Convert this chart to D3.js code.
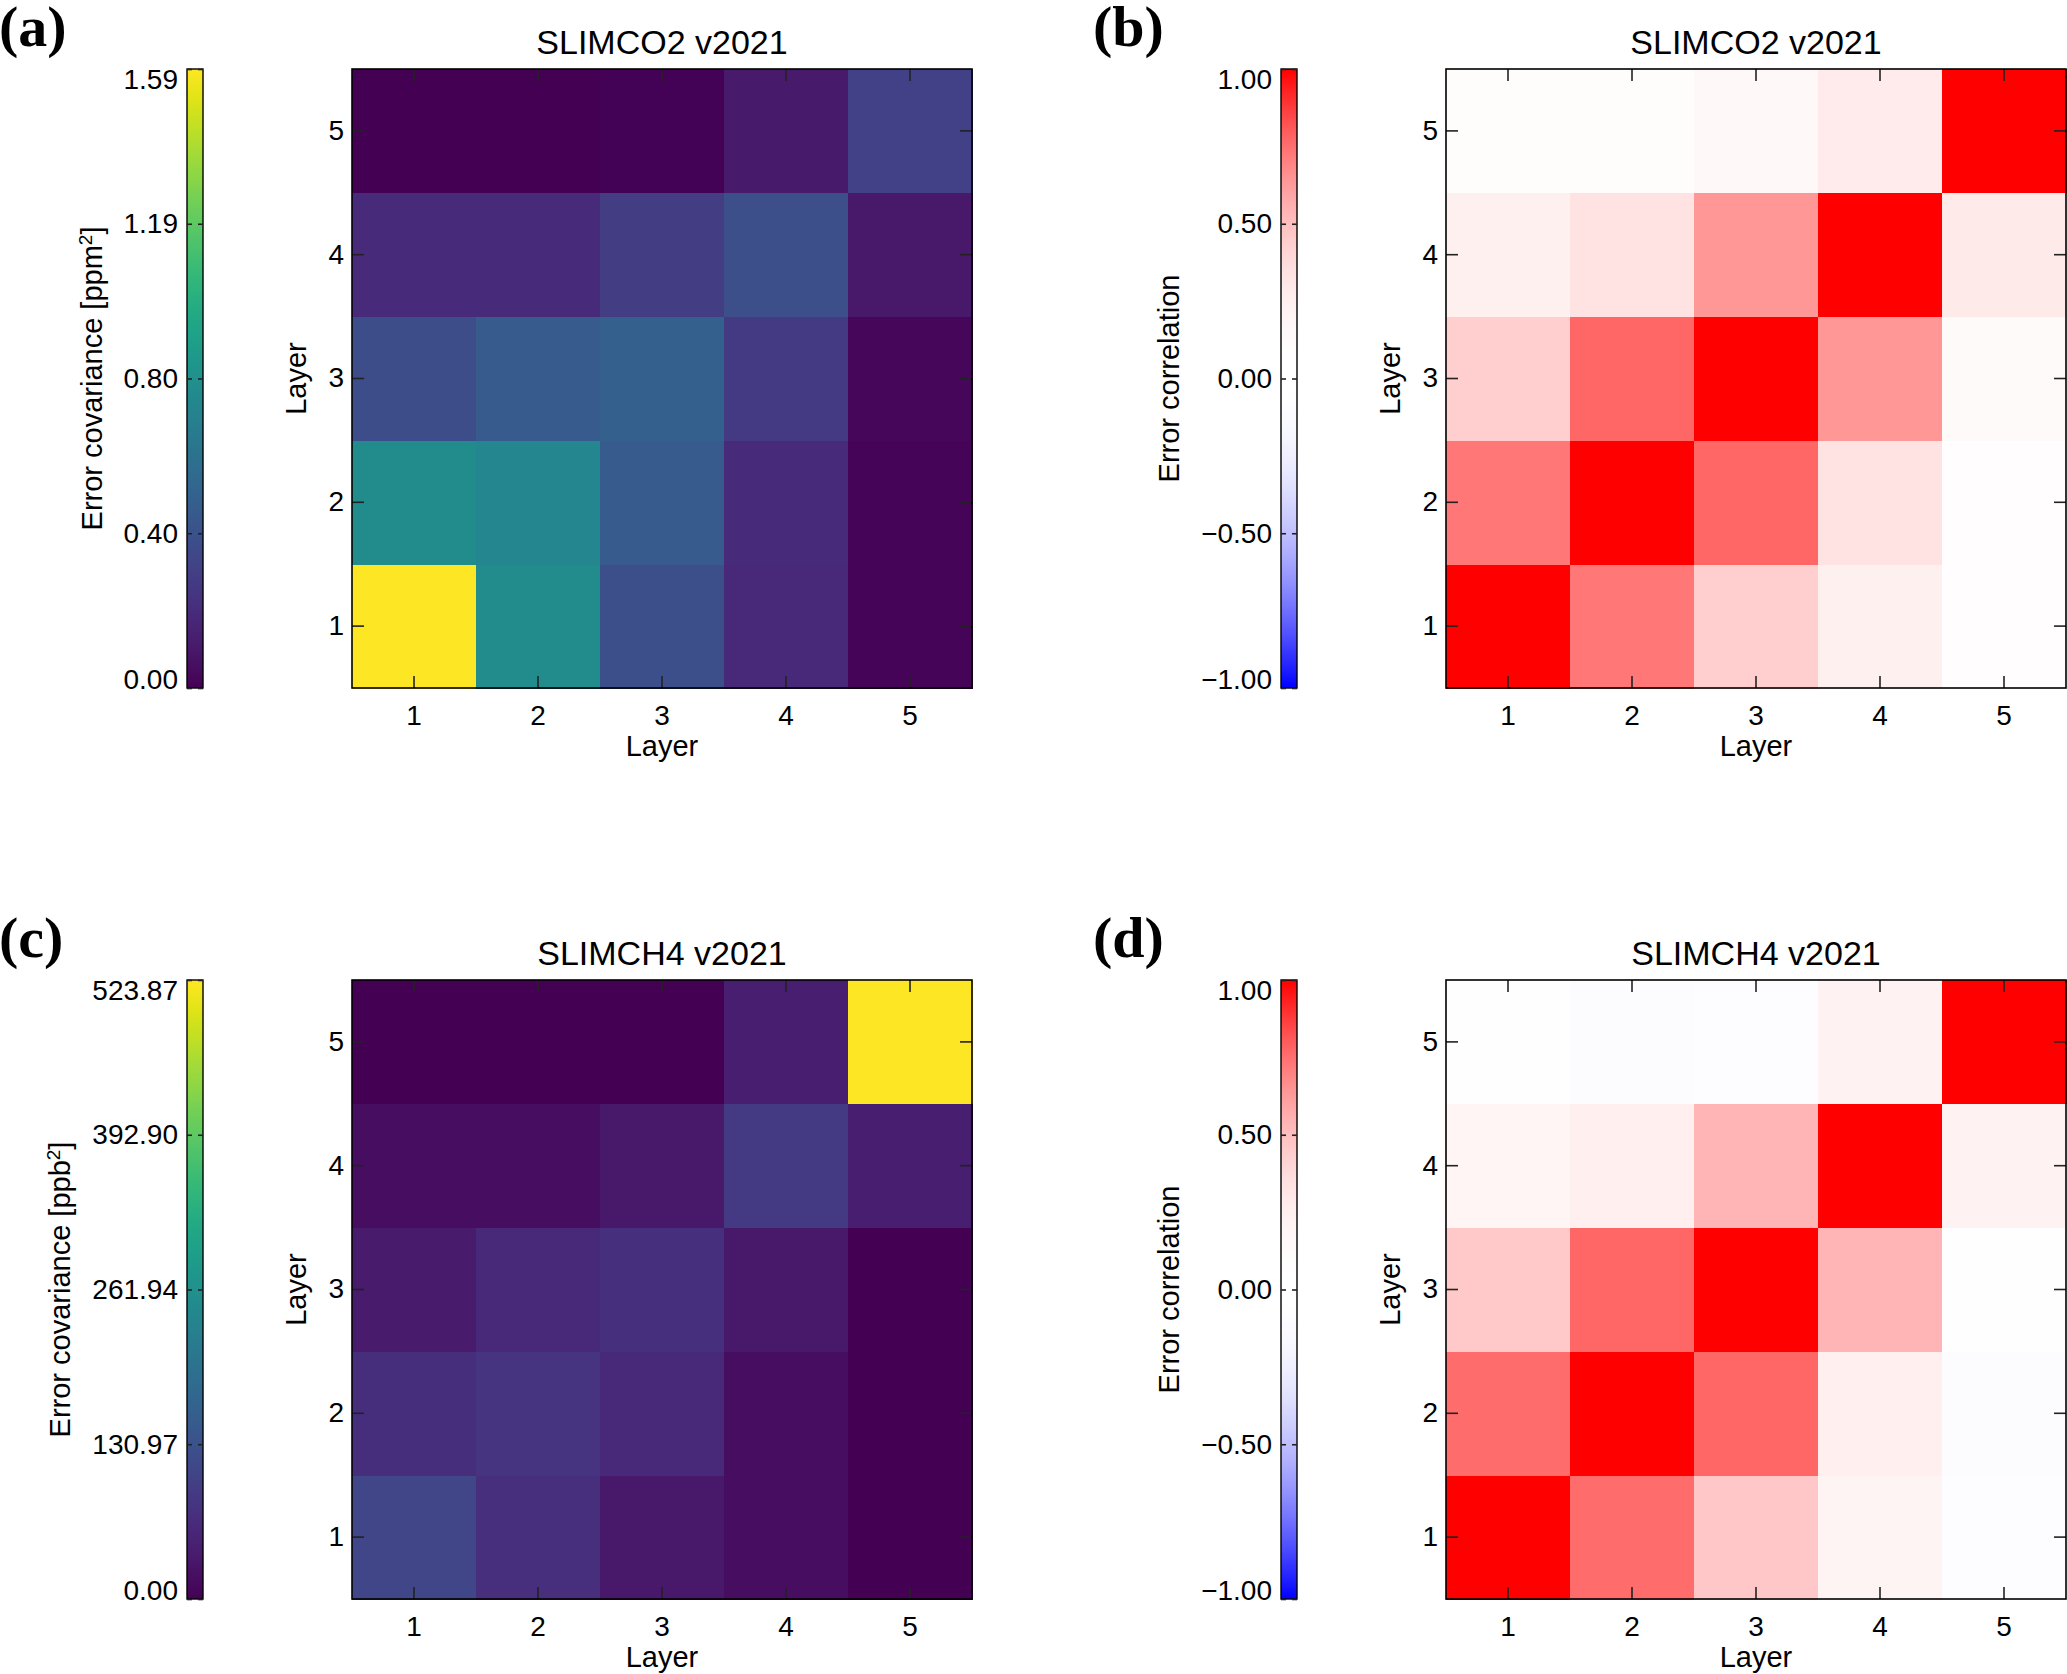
<!DOCTYPE html>
<html><head><meta charset="utf-8">
<script src="https://cdn.jsdelivr.net/npm/d3@7"></script>
<style>body{margin:0;background:#fff}svg text{fill:#000}</style>
</head><body>
<svg id="chart" width="2067" height="1674" font-family='"Liberation Sans",Arial,sans-serif'></svg>
<script>
// ---------------- data ----------------
const layers = [1, 2, 3, 4, 5];

// rows: y-layer 1..5 ; columns: x-layer 1..5
const co2Cov = [
  [1.59, 0.77, 0.38, 0.18, 0.015],
  [0.77, 0.73, 0.45, 0.19, 0.015],
  [0.37, 0.45, 0.48, 0.27, 0.03],
  [0.19, 0.19, 0.28, 0.38, 0.10],
  [0.003, 0.003, 0.012, 0.11, 0.30]
];
const co2Corr = [
  [1.00, 0.73, 0.44, 0.24, 0.09],
  [0.73, 1.00, 0.775, 0.34, 0.09],
  [0.44, 0.775, 1.00, 0.64, 0.14],
  [0.24, 0.34, 0.64, 1.00, 0.29],
  [0.10, 0.10, 0.17, 0.28, 1.00]
];
const ch4Cov = [
  [110, 71, 34, 18, 0.5],
  [68, 79, 58, 18, 0.5],
  [37, 58, 73, 34, 0.5],
  [18, 18, 34, 86, 45],
  [0.5, 0.5, 0.5, 45, 523.87]
];
const ch4Corr = [
  [1.00, 0.76, 0.47, 0.21, -0.09],
  [0.76, 1.00, 0.775, 0.25, -0.11],
  [0.46, 0.775, 1.00, 0.54, -0.07],
  [0.20, 0.25, 0.54, 1.00, 0.23],
  [-0.05, -0.11, -0.09, 0.23, 1.00]
];

const co2CovTickValues = [0, 0.3975, 0.795, 1.1925, 1.59];
const co2CovTickLabels = ["0.00", "0.40", "0.80", "1.19", "1.59"];
const ch4CovTickValues = [0, 130.97, 261.94, 392.90, 523.87];
const ch4CovTickLabels = ["0.00", "130.97", "261.94", "392.90", "523.87"];
const corrTickValues = [-1, -0.5, 0, 0.5, 1];
const corrTickLabels = ["\u22121.00", "\u22120.50", "0.00", "0.50", "1.00"];

const panelLabels = ["(a)", "(b)", "(c)", "(d)"];
const titles = ["SLIMCO2 v2021", "SLIMCO2 v2021", "SLIMCH4 v2021", "SLIMCH4 v2021"];

// ---------------- drawing ----------------
const SANS = '"Liberation Sans",Arial,sans-serif';
const SERIF = '"Liberation Serif","DejaVu Serif","Times New Roman",serif';
const svg = d3.select("#chart");
const defs = svg.append("defs");

// blue-white-red map with quadratic intensity
function corrInterp(t) {           // t in [0,1] -> v in [-1,1]
  const v = t * 2 - 1;
  const s = 1 - v * v;
  const c = Math.round(255 * s);
  return v >= 0 ? `rgb(255,${c},${c})` : `rgb(${c},${c},255)`;
}

const PW = 620, PH = 619, CBW = 16;

function drawPanel(cfg) {
  const dx = cfg.dx, dy = cfg.dy;
  const px = 352 + dx, py = 69 + dy;
  const cbx = 187 + dx;
  const g = svg.append("g");

  const color = cfg.type === "cov"
    ? d3.scaleSequential(d3.interpolateViridis).domain([0, cfg.max])
    : d3.scaleSequential(corrInterp).domain([-1, 1]);

  const x = d3.scaleBand().domain(layers).range([px, px + PW]);
  const y = d3.scaleBand().domain(layers).range([py + PH, py]);

  // cells
  const cells = [];
  cfg.matrix.forEach((row, i) => row.forEach((v, j) => cells.push({ yl: layers[i], xl: layers[j], v })));
  g.append("g").selectAll("rect").data(cells).join("rect")
    .attr("x", d => x(d.xl)).attr("y", d => y(d.yl))
    .attr("width", x.bandwidth() + 0.5).attr("height", y.bandwidth() + 0.5)
    .attr("fill", d => color(d.v))
    .attr("shape-rendering", "crispEdges");

  // axes (inward ticks)
  const styleAxis = a => {
    a.select(".domain").remove();
    a.selectAll("line").attr("stroke", "#222").attr("stroke-width", 1.6);
    a.selectAll("text").attr("font-size", 28).style("font-family", SANS).attr("fill", "#000");
  };
  g.append("g").attr("transform", `translate(0,${py + PH})`)
    .call(d3.axisBottom(x).tickSize(-12).tickPadding(17)).call(styleAxis);
  g.append("g").attr("transform", `translate(0,${py})`)
    .call(d3.axisTop(x).tickSize(-12).tickFormat("")).call(styleAxis);
  g.append("g").attr("transform", `translate(${px},0)`)
    .call(d3.axisLeft(y).tickSize(-12).tickPadding(8)).call(styleAxis);
  g.append("g").attr("transform", `translate(${px + PW},0)`)
    .call(d3.axisRight(y).tickSize(-12).tickFormat("")).call(styleAxis);

  g.append("rect").attr("x", px).attr("y", py).attr("width", PW).attr("height", PH)
    .attr("fill", "none").attr("stroke", "#000").attr("stroke-width", 1.6);

  // axis labels
  g.append("text").attr("x", px + PW / 2).attr("y", py + PH + 68)
    .attr("text-anchor", "middle").attr("font-size", 29).text("Layer");
  g.append("text").attr("transform", `translate(${306 + dx},${py + PH / 2}) rotate(-90)`)
    .attr("text-anchor", "middle").attr("font-size", 29).text("Layer");

  // title
  g.append("text").attr("x", px + PW / 2).attr("y", 54 + dy)
    .attr("text-anchor", "middle").attr("font-size", 34).text(cfg.title);

  // panel label
  g.append("text").attr("x", dx - 1).attr("y", 46 + dy)
    .style("font-family", SERIF)
    .attr("font-weight", "bold").attr("font-size", 58).text(cfg.label);

  // colorbar
  const dom = color.domain();
  const gid = "grad" + cfg.id;
  const grad = defs.append("linearGradient").attr("id", gid)
    .attr("x1", 0).attr("y1", 1).attr("x2", 0).attr("y2", 0);
  d3.range(0, 1.0001, 1 / 60).forEach(t => {
    grad.append("stop").attr("offset", t).attr("stop-color", color(dom[0] + t * (dom[1] - dom[0])));
  });
  g.append("rect").attr("x", cbx).attr("y", py).attr("width", CBW).attr("height", PH)
    .attr("fill", `url(#${gid})`).attr("stroke", "#000").attr("stroke-width", 1.4);

  const cy = d3.scaleLinear().domain(dom).range([py + PH, py]);
  const cbAxis = g.append("g").attr("transform", `translate(${cbx},0)`)
    .call(d3.axisLeft(cy).tickValues(cfg.tickValues).tickFormat((d, i) => cfg.tickLabels[i])
      .tickSize(-5).tickPadding(9))
    .call(styleAxis);
  // end labels kept inside the bar's extent
  const nT = cfg.tickValues.length;
  cbAxis.selectAll("text").attr("dy", (d, i) => i === 0 ? "0em" : (i === nT - 1 ? "0.71em" : "0.32em"));
  g.append("g").attr("transform", `translate(${cbx + CBW},0)`)
    .call(d3.axisRight(cy).tickValues(cfg.tickValues).tickFormat("").tickSize(-5))
    .call(styleAxis);

  let minX = Infinity;
  cbAxis.selectAll("text").each(function () {
    const b = this.getBBox();
    minX = Math.min(minX, b.x);
  });
  const labX = cbx + minX - 22;
  const lab = g.append("text").attr("transform", `translate(${labX},${py + PH / 2}) rotate(-90)`)
    .attr("text-anchor", "middle").attr("font-size", 29);
  if (cfg.unit) {
    lab.append("tspan").text(cfg.cbTitle + " [" + cfg.unit);
    lab.append("tspan").attr("baseline-shift", "super").attr("font-size", 19).text("2");
    lab.append("tspan").text("]");
  } else {
    lab.text(cfg.cbTitle);
  }
}

drawPanel({ id: "a", dx: 0, dy: 0, label: panelLabels[0], title: titles[0], matrix: co2Cov, type: "cov", max: 1.59,
  tickValues: co2CovTickValues, tickLabels: co2CovTickLabels, cbTitle: "Error covariance", unit: "ppm" });
drawPanel({ id: "b", dx: 1094, dy: 0, label: panelLabels[1], title: titles[1], matrix: co2Corr, type: "corr",
  tickValues: corrTickValues, tickLabels: corrTickLabels, cbTitle: "Error correlation" });
drawPanel({ id: "c", dx: 0, dy: 911, label: panelLabels[2], title: titles[2], matrix: ch4Cov, type: "cov", max: 523.87,
  tickValues: ch4CovTickValues, tickLabels: ch4CovTickLabels, cbTitle: "Error covariance", unit: "ppb" });
drawPanel({ id: "d", dx: 1094, dy: 911, label: panelLabels[3], title: titles[3], matrix: ch4Corr, type: "corr",
  tickValues: corrTickValues, tickLabels: corrTickLabels, cbTitle: "Error correlation" });
</script>
</body></html>
